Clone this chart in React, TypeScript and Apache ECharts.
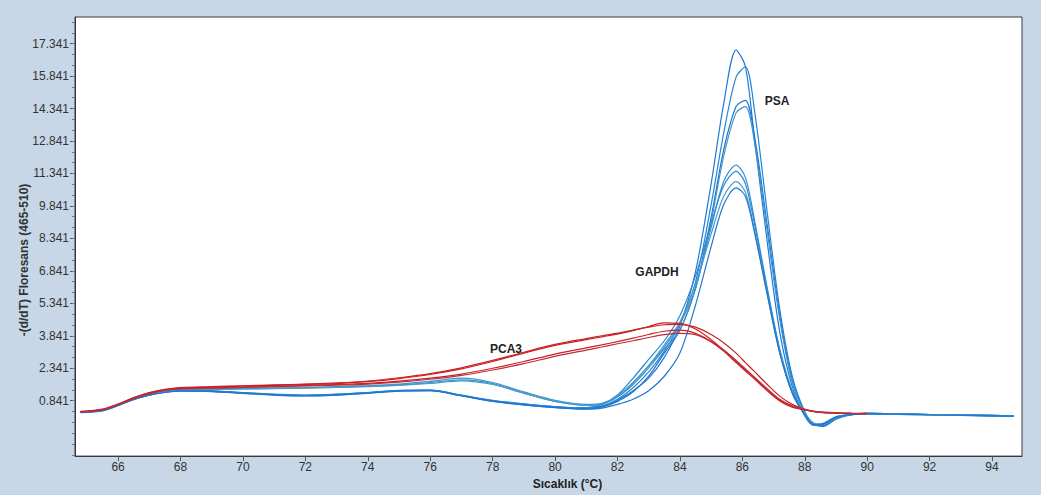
import React, { useEffect, useRef } from "react";
import * as echarts from "echarts";

// Temperature sampling points (°C)
const TEMPS = [
  64.8, 65.5, 66, 66.5, 67, 67.5, 68, 69, 70, 71, 72, 73, 74, 75, 76, 77, 78, 79, 80, 81,
  81.5, 82, 82.5, 83, 83.5, 84, 84.5, 85, 85.4, 85.8, 86.1, 86.4, 86.8, 87.2, 87.6, 88, 88.3,
  88.6, 89, 89.5, 90, 91, 92, 93, 94, 94.7,
];

// Blue samples (GAPDH + PSA melt peaks)
const BLUE_1 = [0.31, 0.39, 0.62, 0.91, 1.10, 1.24, 1.30, 1.28, 1.20, 1.12, 1.08, 1.12, 1.20, 1.30, 1.32, 1.08, 0.83, 0.67, 0.54, 0.48, 0.57, 0.86, 1.30, 1.88, 2.84, 4.29, 6.80, 10.86, 14.53, 17.04, 16.27, 12.79, 8.15, 4.00, 1.49, 0.14, -0.30, -0.25, 0.04, 0.19, 0.23, 0.21, 0.19, 0.16, 0.14, 0.12];
const BLUE_2 = [0.33, 0.41, 0.64, 0.93, 1.12, 1.26, 1.32, 1.30, 1.22, 1.15, 1.10, 1.14, 1.22, 1.32, 1.33, 1.10, 0.86, 0.70, 0.57, 0.50, 0.60, 0.91, 1.44, 2.17, 3.13, 4.39, 6.32, 9.89, 13.18, 15.79, 16.27, 14.14, 9.51, 5.06, 1.97, 0.33, -0.25, -0.35, -0.01, 0.19, 0.25, 0.23, 0.19, 0.17, 0.14, 0.14];
const BLUE_3 = [0.29, 0.37, 0.62, 0.89, 1.10, 1.22, 1.28, 1.26, 1.18, 1.10, 1.06, 1.10, 1.18, 1.28, 1.30, 1.06, 0.81, 0.64, 0.52, 0.45, 0.54, 0.81, 1.25, 1.97, 3.04, 4.10, 6.03, 9.31, 12.41, 14.43, 14.72, 12.98, 8.93, 4.77, 1.78, 0.28, -0.25, -0.30, 0.04, 0.21, 0.25, 0.23, 0.20, 0.18, 0.16, 0.14];
const BLUE_4 = [0.33, 0.41, 0.64, 0.93, 1.15, 1.30, 1.37, 1.39, 1.41, 1.43, 1.45, 1.49, 1.54, 1.61, 1.73, 1.88, 1.68, 1.25, 0.86, 0.67, 0.72, 1.05, 1.68, 2.46, 3.32, 4.39, 6.03, 9.12, 12.12, 14.14, 14.43, 12.70, 8.64, 4.58, 1.68, 0.28, -0.20, -0.25, 0.04, 0.21, 0.25, 0.23, 0.20, 0.18, 0.16, 0.14];
const BLUE_5 = [0.31, 0.39, 0.62, 0.91, 1.14, 1.28, 1.35, 1.37, 1.39, 1.41, 1.43, 1.47, 1.51, 1.57, 1.68, 1.80, 1.63, 1.20, 0.81, 0.62, 0.67, 1.01, 1.59, 2.36, 3.23, 4.10, 6.03, 8.83, 10.96, 11.73, 11.15, 9.12, 6.03, 3.23, 1.30, 0.23, -0.25, -0.20, 0.09, 0.21, 0.25, 0.23, 0.20, 0.18, 0.16, 0.14];
const BLUE_6 = [0.33, 0.40, 0.63, 0.92, 1.12, 1.25, 1.32, 1.29, 1.21, 1.13, 1.09, 1.13, 1.21, 1.31, 1.33, 1.09, 0.85, 0.69, 0.56, 0.52, 0.67, 1.10, 1.88, 2.75, 3.61, 4.77, 6.61, 9.02, 10.76, 11.44, 10.86, 8.93, 5.93, 3.13, 1.20, 0.19, -0.30, -0.25, 0.06, 0.20, 0.23, 0.21, 0.19, 0.16, 0.14, 0.12];
const BLUE_7 = [0.32, 0.40, 0.63, 0.92, 1.13, 1.27, 1.34, 1.36, 1.38, 1.40, 1.42, 1.45, 1.49, 1.55, 1.64, 1.76, 1.59, 1.18, 0.81, 0.64, 0.70, 1.05, 1.68, 2.46, 3.42, 4.48, 6.22, 8.54, 10.28, 10.96, 10.47, 8.64, 5.74, 3.04, 1.20, 0.19, -0.25, -0.20, 0.09, 0.21, 0.25, 0.23, 0.20, 0.18, 0.16, 0.14];
const BLUE_8 = [0.30, 0.38, 0.62, 0.90, 1.10, 1.23, 1.29, 1.27, 1.19, 1.11, 1.07, 1.11, 1.19, 1.29, 1.31, 1.07, 0.82, 0.65, 0.53, 0.46, 0.50, 0.67, 0.91, 1.30, 1.97, 3.04, 5.26, 7.96, 9.89, 10.67, 10.28, 8.54, 5.74, 3.04, 1.20, 0.19, -0.27, -0.23, 0.08, 0.20, 0.24, 0.22, 0.19, 0.17, 0.15, 0.13];

// Red samples (PCA3), recorded up to 90 °C
const RED_1 = [0.33, 0.43, 0.67, 0.97, 1.20, 1.35, 1.43, 1.47, 1.51, 1.55, 1.59, 1.63, 1.72, 1.86, 2.05, 2.31, 2.65, 3.04, 3.40, 3.66, 3.79, 3.92, 4.08, 4.27, 4.44, 4.41, 4.15, 3.66, 3.18, 2.65, 2.26, 1.88, 1.34, 0.86, 0.57, 0.43, 0.35, 0.31, 0.28, 0.26, 0.25];
const RED_2 = [0.35, 0.45, 0.69, 0.99, 1.22, 1.37, 1.45, 1.49, 1.53, 1.57, 1.61, 1.66, 1.75, 1.90, 2.09, 2.36, 2.70, 3.08, 3.44, 3.71, 3.84, 3.96, 4.10, 4.24, 4.35, 4.37, 4.24, 3.90, 3.52, 3.04, 2.60, 2.17, 1.59, 1.05, 0.67, 0.45, 0.35, 0.30, 0.27, 0.25, 0.24];
const RED_3 = [0.33, 0.42, 0.66, 0.95, 1.18, 1.33, 1.41, 1.44, 1.47, 1.51, 1.54, 1.58, 1.64, 1.74, 1.88, 2.07, 2.34, 2.65, 2.99, 3.28, 3.42, 3.57, 3.73, 3.90, 4.05, 4.10, 3.95, 3.57, 3.13, 2.60, 2.21, 1.83, 1.30, 0.83, 0.54, 0.41, 0.33, 0.29, 0.27, 0.25, 0.24];
const RED_4 = [0.32, 0.41, 0.65, 0.94, 1.17, 1.32, 1.39, 1.42, 1.45, 1.49, 1.52, 1.56, 1.61, 1.70, 1.83, 2.01, 2.26, 2.55, 2.89, 3.18, 3.32, 3.47, 3.61, 3.76, 3.89, 3.95, 3.89, 3.57, 3.18, 2.70, 2.31, 1.92, 1.39, 0.91, 0.60, 0.43, 0.33, 0.29, 0.27, 0.25, 0.24];

const BLUE_SERIES = [BLUE_1, BLUE_2, BLUE_3, BLUE_4, BLUE_5, BLUE_6, BLUE_7, BLUE_8];
const BLUE_COLORS = ["#1f7ad6", "#2584d8", "#1c74cf", "#3d95c9", "#3a90cc", "#2a86d6", "#4a9ac6", "#1e78d2"];
const RED_SERIES = [RED_1, RED_2, RED_3, RED_4];
const RED_COLORS = ["#d21c1c", "#c8232a", "#d01e22", "#b8303c"];

// Axis ticks
const Y_TICKS = [0.841, 2.341, 3.841, 5.341, 6.841, 8.341, 9.841, 11.341, 12.841, 14.341, 15.841, 17.341];
const X_TICKS = [66, 68, 70, 72, 74, 76, 78, 80, 82, 84, 86, 88, 90, 92, 94];

const Y_MIN = -1.72;
const Y_MAX = 18.57;
const X_MIN = 64.62;
const X_MAX = 94.96;

const PEAK_LABELS = [
  { text: "PSA", x: 777, y: 101 },
  { text: "GAPDH", x: 657, y: 272 },
  { text: "PCA3", x: 506, y: 349 },
];

function toPairs(ys: number[]) {
  return ys.map((y, i) => [TEMPS[i], y]);
}

export default function App() {
  const ref = useRef<HTMLDivElement>(null);

  useEffect(() => {
    document.body.style.margin = "0";
    if (!ref.current) return;
    const chart = echarts.init(ref.current, null, { renderer: "svg" });

    const minor: number[] = [];
    const majors = [-2.159, -0.659, ...Y_TICKS];
    majors.forEach((m) => {
      [m, m + 0.5, m + 1.0].forEach((v) => {
        if (v >= Y_MIN && v <= Y_MAX) minor.push(v);
      });
    });

    const font = "'Liberation Sans', Arial, sans-serif";

    const series: any[] = [];
    BLUE_SERIES.forEach((ys, i) => {
      series.push({
        type: "line",
        name: "blue" + (i + 1),
        data: toPairs(ys),
        smooth: 0.3,
        symbol: "none",
        lineStyle: { color: BLUE_COLORS[i], width: 1.2 },
        z: 2,
      });
    });
    RED_SERIES.forEach((ys, i) => {
      series.push({
        type: "line",
        name: "red" + (i + 1),
        data: toPairs(ys),
        smooth: 0.3,
        symbol: "none",
        lineStyle: { color: RED_COLORS[i], width: 1.2 },
        z: 3,
      });
    });

    chart.setOption({
      animation: false,
      backgroundColor: "#c7d7e8",
      grid: {
        left: 75,
        right: 19,
        top: 17,
        bottom: 34,
        show: true,
        backgroundColor: "#ffffff",
        borderColor: "#3a3a3a",
        borderWidth: 1,
      },
      xAxis: {
        type: "value",
        min: X_MIN,
        max: X_MAX,
        name: "Sıcaklık (°C)",
        nameLocation: "middle",
        nameGap: 21,
        nameTextStyle: {
          fontFamily: font,
          fontWeight: "bold",
          fontSize: 12,
          color: "#222",
          padding: [0, 0, 0, 38],
        },
        axisLine: { show: true, onZero: false, lineStyle: { color: "#3a3a3a" } },
        axisTick: { show: true, customValues: X_TICKS, length: 5, lineStyle: { color: "#555" } },
        axisLabel: {
          customValues: X_TICKS,
          color: "#333",
          fontFamily: font,
          fontSize: 12,
          margin: 5,
        },
        splitLine: { show: false },
      },
      yAxis: [
        {
          type: "value",
          min: Y_MIN,
          max: Y_MAX,
          axisLine: { show: true, onZero: false, lineStyle: { color: "#3a3a3a" } },
          axisTick: { show: true, customValues: Y_TICKS, length: 5, lineStyle: { color: "#555" } },
          axisLabel: {
            customValues: Y_TICKS,
            formatter: (v: number) => v.toFixed(3),
            color: "#333",
            fontFamily: font,
            fontSize: 12,
            margin: 6,
          },
          splitLine: { show: false },
        },
        {
          type: "value",
          min: Y_MIN,
          max: Y_MAX,
          position: "left",
          axisLine: { show: false, onZero: false },
          axisTick: { show: true, customValues: minor, length: 3, lineStyle: { color: "#777" } },
          axisLabel: { show: false },
          splitLine: { show: false },
        },
      ],
      graphic: [
        {
          type: "text",
          x: 24,
          y: 260,
          rotation: Math.PI / 2,
          style: {
            text: "-(d/dT) Floresans (465-510)",
            fontFamily: font,
            fontSize: 12,
            fontWeight: "bold",
            fill: "#333",
            align: "center",
            verticalAlign: "middle",
          },
        },
        ...PEAK_LABELS.map((l) => ({
          type: "text",
          x: l.x,
          y: l.y,
          z: 10,
          style: {
            text: l.text,
            fontFamily: font,
            fontSize: 12,
            fontWeight: "bold",
            fill: "#222",
            align: "center",
            verticalAlign: "middle",
          },
        })),
      ],
      series,
    });

    return () => chart.dispose();
  }, []);

  return <div ref={ref} style={{ width: 1041, height: 495 }} />;
}
